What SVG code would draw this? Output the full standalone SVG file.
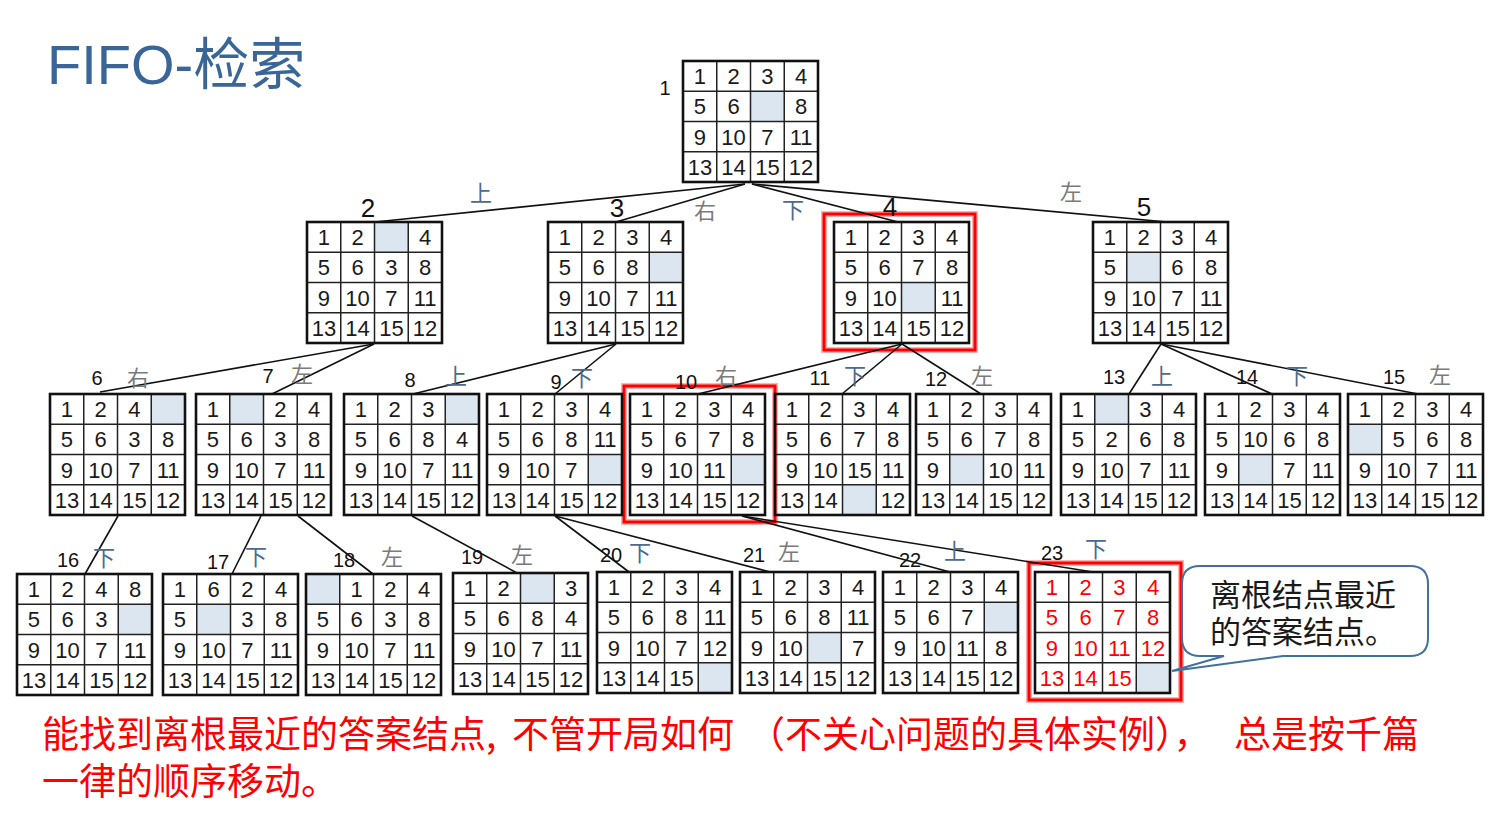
<svg xmlns="http://www.w3.org/2000/svg" xmlns:xlink="http://www.w3.org/1999/xlink" width="1496" height="824" viewBox="0 0 1496 824">
<style>
.d{font-family:"Liberation Sans",Arial,sans-serif;font-size:22px;fill:#1a1a1a;text-anchor:middle}
.r{fill:#ff0000}
.b{fill:#dce6f1}
.lbl{font-family:"Liberation Sans",Arial,sans-serif;font-size:20px;fill:#111;text-anchor:middle}
.lbl1{font-family:"Liberation Sans",Arial,sans-serif;font-size:26px;fill:#111;text-anchor:middle}
.dir{font-family:"Noto Sans CJK SC",sans-serif;font-size:22px;text-anchor:middle}
.ud{fill:#4d6a8c}
.lr{fill:#7a7a7a}
.red{fill:none;stroke:#ff0000;stroke-width:3}
.redglow{fill:none;stroke:#ffb0b0;stroke-width:6}
.conn line{stroke:#111;stroke-width:1.6}
</style>
<defs>
<g id="grid">
<path d="M33.75,0V121M67.5,0V121M101.25,0V121M0,30.25H135M0,60.5H135M0,90.75H135" stroke="#222" stroke-width="1.5" fill="none"/>
<rect width="135" height="121" fill="none" stroke="#111" stroke-width="2.6"/>
</g>
</defs>
<rect width="1496" height="824" fill="#ffffff"/>

<text x="47" y="84" font-family="Liberation Sans, Noto Sans CJK SC, sans-serif" font-size="56" fill="#3a6597">FIFO-检索</text>

<!-- red highlight boxes -->
<g id="highlights">
<rect class="redglow" x="824" y="214" width="151" height="136"/><rect class="red" x="824" y="214" width="151" height="136"/>
<rect class="redglow" x="624" y="386" width="151" height="136"/><rect class="red" x="624" y="386" width="151" height="136"/>
<rect class="redglow" x="1029" y="563" width="152" height="137"/><rect class="red" x="1029" y="563" width="152" height="137"/>
</g>

<g id="connectors" class="conn">
<line x1="745" y1="184" x2="375" y2="222"/>
<line x1="745" y1="184" x2="616" y2="222"/>
<line x1="752" y1="184" x2="898" y2="222"/>
<line x1="752" y1="184" x2="1167" y2="222"/>
<line x1="374" y1="344" x2="100" y2="392"/>
<line x1="374" y1="344" x2="272" y2="394"/>
<line x1="616" y1="344" x2="413" y2="394"/>
<line x1="616" y1="344" x2="555" y2="394"/>
<line x1="902" y1="344" x2="698" y2="394"/>
<line x1="902" y1="344" x2="842" y2="394"/>
<line x1="902" y1="344" x2="981" y2="394"/>
<line x1="1161" y1="344" x2="1129" y2="394"/>
<line x1="1161" y1="344" x2="1272" y2="394"/>
<line x1="1161" y1="344" x2="1418" y2="394"/>
<line x1="118" y1="516" x2="85" y2="574"/>
<line x1="261" y1="516" x2="232" y2="574"/>
<line x1="298" y1="516" x2="373" y2="574"/>
<line x1="412" y1="516" x2="517" y2="573"/>
<line x1="555" y1="516" x2="629" y2="572"/>
<line x1="555" y1="516" x2="770" y2="572"/>
<line x1="742" y1="516" x2="950" y2="572"/>
<line x1="742" y1="516" x2="1093" y2="572"/>
</g>

<!-- labels -->
<g id="labels">
<text class="lbl" x="665" y="95" font-size="22">1</text>
<text class="lbl1" x="368" y="217">2</text>
<text class="lbl1" x="617" y="217">3</text>
<text class="lbl1" x="890" y="216">4</text>
<text class="lbl1" x="1144" y="216">5</text>
<text class="dir ud" x="481" y="201">上</text>
<text class="dir lr" x="705" y="219">右</text>
<text class="dir ud" x="793" y="218">下</text>
<text class="dir lr" x="1071" y="200">左</text>

<text class="lbl" x="97" y="385">6</text><text class="dir lr" x="138" y="386">右</text>
<text class="lbl" x="268" y="383">7</text><text class="dir lr" x="302" y="382">左</text>
<text class="lbl" x="410" y="387">8</text><text class="dir ud" x="456" y="384">上</text>
<text class="lbl" x="556" y="389">9</text><text class="dir ud" x="582" y="386">下</text>
<text class="lbl" x="686" y="389">10</text><text class="dir lr" x="726" y="384">右</text>
<text class="lbl" x="820" y="385">11</text><text class="dir ud" x="855" y="384">下</text>
<text class="lbl" x="936" y="386">12</text><text class="dir lr" x="982" y="384">左</text>
<text class="lbl" x="1114" y="384">13</text><text class="dir ud" x="1162" y="384">上</text>
<text class="lbl" x="1247" y="384">14</text><text class="dir ud" x="1297" y="384">下</text>
<text class="lbl" x="1394" y="384">15</text><text class="dir lr" x="1440" y="383">左</text>

<text class="lbl" x="68" y="567">16</text><text class="dir ud" x="104" y="566">下</text>
<text class="lbl" x="218" y="569">17</text><text class="dir ud" x="256" y="565">下</text>
<text class="lbl" x="344" y="567">18</text><text class="dir lr" x="392" y="565">左</text>
<text class="lbl" x="472" y="564">19</text><text class="dir lr" x="522" y="563">左</text>
<text class="lbl" x="611" y="562">20</text><text class="dir ud" x="640" y="561">下</text>
<text class="lbl" x="754" y="562">21</text><text class="dir lr" x="789" y="560">左</text>
<text class="lbl" x="910" y="567">22</text><text class="dir ud" x="955" y="559">上</text>
<text class="lbl" x="1052" y="560">23</text><text class="dir ud" x="1096" y="557">下</text>
</g>

<g id="n1" transform="translate(683,61)"><rect class="b" x="67.5" y="30.25" width="33.75" height="30.25"/><use href="#grid" xlink:href="#grid"/>
<text class="d" y="23"><tspan x="16.9">1</tspan><tspan x="50.6">2</tspan><tspan x="84.4">3</tspan><tspan x="118.1">4</tspan></text>
<text class="d" y="53.3"><tspan x="16.9">5</tspan><tspan x="50.6">6</tspan><tspan x="118.1">8</tspan></text>
<text class="d" y="83.5"><tspan x="16.9">9</tspan><tspan x="50.6">10</tspan><tspan x="84.4">7</tspan><tspan x="118.1">11</tspan></text>
<text class="d" y="113.8"><tspan x="16.9">13</tspan><tspan x="50.6">14</tspan><tspan x="84.4">15</tspan><tspan x="118.1">12</tspan></text></g>

<g id="n2" transform="translate(307,222)"><rect class="b" x="67.5" y="0" width="33.75" height="30.25"/><use href="#grid" xlink:href="#grid"/>
<text class="d" y="23"><tspan x="16.9">1</tspan><tspan x="50.6">2</tspan><tspan x="118.1">4</tspan></text>
<text class="d" y="53.3"><tspan x="16.9">5</tspan><tspan x="50.6">6</tspan><tspan x="84.4">3</tspan><tspan x="118.1">8</tspan></text>
<text class="d" y="83.5"><tspan x="16.9">9</tspan><tspan x="50.6">10</tspan><tspan x="84.4">7</tspan><tspan x="118.1">11</tspan></text>
<text class="d" y="113.8"><tspan x="16.9">13</tspan><tspan x="50.6">14</tspan><tspan x="84.4">15</tspan><tspan x="118.1">12</tspan></text></g>

<g id="n3" transform="translate(548,222)"><rect class="b" x="101.25" y="30.25" width="33.75" height="30.25"/><use href="#grid" xlink:href="#grid"/>
<text class="d" y="23"><tspan x="16.9">1</tspan><tspan x="50.6">2</tspan><tspan x="84.4">3</tspan><tspan x="118.1">4</tspan></text>
<text class="d" y="53.3"><tspan x="16.9">5</tspan><tspan x="50.6">6</tspan><tspan x="84.4">8</tspan></text>
<text class="d" y="83.5"><tspan x="16.9">9</tspan><tspan x="50.6">10</tspan><tspan x="84.4">7</tspan><tspan x="118.1">11</tspan></text>
<text class="d" y="113.8"><tspan x="16.9">13</tspan><tspan x="50.6">14</tspan><tspan x="84.4">15</tspan><tspan x="118.1">12</tspan></text></g>

<g id="n4" transform="translate(834,222)"><rect class="b" x="67.5" y="60.5" width="33.75" height="30.25"/><use href="#grid" xlink:href="#grid"/>
<text class="d" y="23"><tspan x="16.9">1</tspan><tspan x="50.6">2</tspan><tspan x="84.4">3</tspan><tspan x="118.1">4</tspan></text>
<text class="d" y="53.3"><tspan x="16.9">5</tspan><tspan x="50.6">6</tspan><tspan x="84.4">7</tspan><tspan x="118.1">8</tspan></text>
<text class="d" y="83.5"><tspan x="16.9">9</tspan><tspan x="50.6">10</tspan><tspan x="118.1">11</tspan></text>
<text class="d" y="113.8"><tspan x="16.9">13</tspan><tspan x="50.6">14</tspan><tspan x="84.4">15</tspan><tspan x="118.1">12</tspan></text></g>

<g id="n5" transform="translate(1093,222)"><rect class="b" x="33.75" y="30.25" width="33.75" height="30.25"/><use href="#grid" xlink:href="#grid"/>
<text class="d" y="23"><tspan x="16.9">1</tspan><tspan x="50.6">2</tspan><tspan x="84.4">3</tspan><tspan x="118.1">4</tspan></text>
<text class="d" y="53.3"><tspan x="16.9">5</tspan><tspan x="84.4">6</tspan><tspan x="118.1">8</tspan></text>
<text class="d" y="83.5"><tspan x="16.9">9</tspan><tspan x="50.6">10</tspan><tspan x="84.4">7</tspan><tspan x="118.1">11</tspan></text>
<text class="d" y="113.8"><tspan x="16.9">13</tspan><tspan x="50.6">14</tspan><tspan x="84.4">15</tspan><tspan x="118.1">12</tspan></text></g>

<g id="n6" transform="translate(50,394)"><rect class="b" x="101.25" y="0" width="33.75" height="30.25"/><use href="#grid" xlink:href="#grid"/>
<text class="d" y="23"><tspan x="16.9">1</tspan><tspan x="50.6">2</tspan><tspan x="84.4">4</tspan></text>
<text class="d" y="53.3"><tspan x="16.9">5</tspan><tspan x="50.6">6</tspan><tspan x="84.4">3</tspan><tspan x="118.1">8</tspan></text>
<text class="d" y="83.5"><tspan x="16.9">9</tspan><tspan x="50.6">10</tspan><tspan x="84.4">7</tspan><tspan x="118.1">11</tspan></text>
<text class="d" y="113.8"><tspan x="16.9">13</tspan><tspan x="50.6">14</tspan><tspan x="84.4">15</tspan><tspan x="118.1">12</tspan></text></g>

<g id="n7" transform="translate(196,394)"><rect class="b" x="33.75" y="0" width="33.75" height="30.25"/><use href="#grid" xlink:href="#grid"/>
<text class="d" y="23"><tspan x="16.9">1</tspan><tspan x="84.4">2</tspan><tspan x="118.1">4</tspan></text>
<text class="d" y="53.3"><tspan x="16.9">5</tspan><tspan x="50.6">6</tspan><tspan x="84.4">3</tspan><tspan x="118.1">8</tspan></text>
<text class="d" y="83.5"><tspan x="16.9">9</tspan><tspan x="50.6">10</tspan><tspan x="84.4">7</tspan><tspan x="118.1">11</tspan></text>
<text class="d" y="113.8"><tspan x="16.9">13</tspan><tspan x="50.6">14</tspan><tspan x="84.4">15</tspan><tspan x="118.1">12</tspan></text></g>

<g id="n8" transform="translate(344,394)"><rect class="b" x="101.25" y="0" width="33.75" height="30.25"/><use href="#grid" xlink:href="#grid"/>
<text class="d" y="23"><tspan x="16.9">1</tspan><tspan x="50.6">2</tspan><tspan x="84.4">3</tspan></text>
<text class="d" y="53.3"><tspan x="16.9">5</tspan><tspan x="50.6">6</tspan><tspan x="84.4">8</tspan><tspan x="118.1">4</tspan></text>
<text class="d" y="83.5"><tspan x="16.9">9</tspan><tspan x="50.6">10</tspan><tspan x="84.4">7</tspan><tspan x="118.1">11</tspan></text>
<text class="d" y="113.8"><tspan x="16.9">13</tspan><tspan x="50.6">14</tspan><tspan x="84.4">15</tspan><tspan x="118.1">12</tspan></text></g>

<g id="n9" transform="translate(487,394)"><rect class="b" x="101.25" y="60.5" width="33.75" height="30.25"/><use href="#grid" xlink:href="#grid"/>
<text class="d" y="23"><tspan x="16.9">1</tspan><tspan x="50.6">2</tspan><tspan x="84.4">3</tspan><tspan x="118.1">4</tspan></text>
<text class="d" y="53.3"><tspan x="16.9">5</tspan><tspan x="50.6">6</tspan><tspan x="84.4">8</tspan><tspan x="118.1">11</tspan></text>
<text class="d" y="83.5"><tspan x="16.9">9</tspan><tspan x="50.6">10</tspan><tspan x="84.4">7</tspan></text>
<text class="d" y="113.8"><tspan x="16.9">13</tspan><tspan x="50.6">14</tspan><tspan x="84.4">15</tspan><tspan x="118.1">12</tspan></text></g>

<g id="n10" transform="translate(630,394)"><rect class="b" x="101.25" y="60.5" width="33.75" height="30.25"/><use href="#grid" xlink:href="#grid"/>
<text class="d" y="23"><tspan x="16.9">1</tspan><tspan x="50.6">2</tspan><tspan x="84.4">3</tspan><tspan x="118.1">4</tspan></text>
<text class="d" y="53.3"><tspan x="16.9">5</tspan><tspan x="50.6">6</tspan><tspan x="84.4">7</tspan><tspan x="118.1">8</tspan></text>
<text class="d" y="83.5"><tspan x="16.9">9</tspan><tspan x="50.6">10</tspan><tspan x="84.4">11</tspan></text>
<text class="d" y="113.8"><tspan x="16.9">13</tspan><tspan x="50.6">14</tspan><tspan x="84.4">15</tspan><tspan x="118.1">12</tspan></text></g>

<g id="n11" transform="translate(775,394)"><rect class="b" x="67.5" y="90.75" width="33.75" height="30.25"/><use href="#grid" xlink:href="#grid"/>
<text class="d" y="23"><tspan x="16.9">1</tspan><tspan x="50.6">2</tspan><tspan x="84.4">3</tspan><tspan x="118.1">4</tspan></text>
<text class="d" y="53.3"><tspan x="16.9">5</tspan><tspan x="50.6">6</tspan><tspan x="84.4">7</tspan><tspan x="118.1">8</tspan></text>
<text class="d" y="83.5"><tspan x="16.9">9</tspan><tspan x="50.6">10</tspan><tspan x="84.4">15</tspan><tspan x="118.1">11</tspan></text>
<text class="d" y="113.8"><tspan x="16.9">13</tspan><tspan x="50.6">14</tspan><tspan x="118.1">12</tspan></text></g>

<g id="n12" transform="translate(916,394)"><rect class="b" x="33.75" y="60.5" width="33.75" height="30.25"/><use href="#grid" xlink:href="#grid"/>
<text class="d" y="23"><tspan x="16.9">1</tspan><tspan x="50.6">2</tspan><tspan x="84.4">3</tspan><tspan x="118.1">4</tspan></text>
<text class="d" y="53.3"><tspan x="16.9">5</tspan><tspan x="50.6">6</tspan><tspan x="84.4">7</tspan><tspan x="118.1">8</tspan></text>
<text class="d" y="83.5"><tspan x="16.9">9</tspan><tspan x="84.4">10</tspan><tspan x="118.1">11</tspan></text>
<text class="d" y="113.8"><tspan x="16.9">13</tspan><tspan x="50.6">14</tspan><tspan x="84.4">15</tspan><tspan x="118.1">12</tspan></text></g>

<g id="n13" transform="translate(1061,394)"><rect class="b" x="33.75" y="0" width="33.75" height="30.25"/><use href="#grid" xlink:href="#grid"/>
<text class="d" y="23"><tspan x="16.9">1</tspan><tspan x="84.4">3</tspan><tspan x="118.1">4</tspan></text>
<text class="d" y="53.3"><tspan x="16.9">5</tspan><tspan x="50.6">2</tspan><tspan x="84.4">6</tspan><tspan x="118.1">8</tspan></text>
<text class="d" y="83.5"><tspan x="16.9">9</tspan><tspan x="50.6">10</tspan><tspan x="84.4">7</tspan><tspan x="118.1">11</tspan></text>
<text class="d" y="113.8"><tspan x="16.9">13</tspan><tspan x="50.6">14</tspan><tspan x="84.4">15</tspan><tspan x="118.1">12</tspan></text></g>

<g id="n14" transform="translate(1205,394)"><rect class="b" x="33.75" y="60.5" width="33.75" height="30.25"/><use href="#grid" xlink:href="#grid"/>
<text class="d" y="23"><tspan x="16.9">1</tspan><tspan x="50.6">2</tspan><tspan x="84.4">3</tspan><tspan x="118.1">4</tspan></text>
<text class="d" y="53.3"><tspan x="16.9">5</tspan><tspan x="50.6">10</tspan><tspan x="84.4">6</tspan><tspan x="118.1">8</tspan></text>
<text class="d" y="83.5"><tspan x="16.9">9</tspan><tspan x="84.4">7</tspan><tspan x="118.1">11</tspan></text>
<text class="d" y="113.8"><tspan x="16.9">13</tspan><tspan x="50.6">14</tspan><tspan x="84.4">15</tspan><tspan x="118.1">12</tspan></text></g>

<g id="n15" transform="translate(1348,394)"><rect class="b" x="0" y="30.25" width="33.75" height="30.25"/><use href="#grid" xlink:href="#grid"/>
<text class="d" y="23"><tspan x="16.9">1</tspan><tspan x="50.6">2</tspan><tspan x="84.4">3</tspan><tspan x="118.1">4</tspan></text>
<text class="d" y="53.3"><tspan x="50.6">5</tspan><tspan x="84.4">6</tspan><tspan x="118.1">8</tspan></text>
<text class="d" y="83.5"><tspan x="16.9">9</tspan><tspan x="50.6">10</tspan><tspan x="84.4">7</tspan><tspan x="118.1">11</tspan></text>
<text class="d" y="113.8"><tspan x="16.9">13</tspan><tspan x="50.6">14</tspan><tspan x="84.4">15</tspan><tspan x="118.1">12</tspan></text></g>

<g id="n16" transform="translate(17,574)"><rect class="b" x="101.25" y="30.25" width="33.75" height="30.25"/><use href="#grid" xlink:href="#grid"/>
<text class="d" y="23"><tspan x="16.9">1</tspan><tspan x="50.6">2</tspan><tspan x="84.4">4</tspan><tspan x="118.1">8</tspan></text>
<text class="d" y="53.3"><tspan x="16.9">5</tspan><tspan x="50.6">6</tspan><tspan x="84.4">3</tspan></text>
<text class="d" y="83.5"><tspan x="16.9">9</tspan><tspan x="50.6">10</tspan><tspan x="84.4">7</tspan><tspan x="118.1">11</tspan></text>
<text class="d" y="113.8"><tspan x="16.9">13</tspan><tspan x="50.6">14</tspan><tspan x="84.4">15</tspan><tspan x="118.1">12</tspan></text></g>

<g id="n17" transform="translate(163,574)"><rect class="b" x="33.75" y="30.25" width="33.75" height="30.25"/><use href="#grid" xlink:href="#grid"/>
<text class="d" y="23"><tspan x="16.9">1</tspan><tspan x="50.6">6</tspan><tspan x="84.4">2</tspan><tspan x="118.1">4</tspan></text>
<text class="d" y="53.3"><tspan x="16.9">5</tspan><tspan x="84.4">3</tspan><tspan x="118.1">8</tspan></text>
<text class="d" y="83.5"><tspan x="16.9">9</tspan><tspan x="50.6">10</tspan><tspan x="84.4">7</tspan><tspan x="118.1">11</tspan></text>
<text class="d" y="113.8"><tspan x="16.9">13</tspan><tspan x="50.6">14</tspan><tspan x="84.4">15</tspan><tspan x="118.1">12</tspan></text></g>

<g id="n18" transform="translate(306,574)"><rect class="b" x="0" y="0" width="33.75" height="30.25"/><use href="#grid" xlink:href="#grid"/>
<text class="d" y="23"><tspan x="50.6">1</tspan><tspan x="84.4">2</tspan><tspan x="118.1">4</tspan></text>
<text class="d" y="53.3"><tspan x="16.9">5</tspan><tspan x="50.6">6</tspan><tspan x="84.4">3</tspan><tspan x="118.1">8</tspan></text>
<text class="d" y="83.5"><tspan x="16.9">9</tspan><tspan x="50.6">10</tspan><tspan x="84.4">7</tspan><tspan x="118.1">11</tspan></text>
<text class="d" y="113.8"><tspan x="16.9">13</tspan><tspan x="50.6">14</tspan><tspan x="84.4">15</tspan><tspan x="118.1">12</tspan></text></g>

<g id="n19" transform="translate(453,573)"><rect class="b" x="67.5" y="0" width="33.75" height="30.25"/><use href="#grid" xlink:href="#grid"/>
<text class="d" y="23"><tspan x="16.9">1</tspan><tspan x="50.6">2</tspan><tspan x="118.1">3</tspan></text>
<text class="d" y="53.3"><tspan x="16.9">5</tspan><tspan x="50.6">6</tspan><tspan x="84.4">8</tspan><tspan x="118.1">4</tspan></text>
<text class="d" y="83.5"><tspan x="16.9">9</tspan><tspan x="50.6">10</tspan><tspan x="84.4">7</tspan><tspan x="118.1">11</tspan></text>
<text class="d" y="113.8"><tspan x="16.9">13</tspan><tspan x="50.6">14</tspan><tspan x="84.4">15</tspan><tspan x="118.1">12</tspan></text></g>

<g id="n20" transform="translate(597,572)"><rect class="b" x="101.25" y="90.75" width="33.75" height="30.25"/><use href="#grid" xlink:href="#grid"/>
<text class="d" y="23"><tspan x="16.9">1</tspan><tspan x="50.6">2</tspan><tspan x="84.4">3</tspan><tspan x="118.1">4</tspan></text>
<text class="d" y="53.3"><tspan x="16.9">5</tspan><tspan x="50.6">6</tspan><tspan x="84.4">8</tspan><tspan x="118.1">11</tspan></text>
<text class="d" y="83.5"><tspan x="16.9">9</tspan><tspan x="50.6">10</tspan><tspan x="84.4">7</tspan><tspan x="118.1">12</tspan></text>
<text class="d" y="113.8"><tspan x="16.9">13</tspan><tspan x="50.6">14</tspan><tspan x="84.4">15</tspan></text></g>

<g id="n21" transform="translate(740,572)"><rect class="b" x="67.5" y="60.5" width="33.75" height="30.25"/><use href="#grid" xlink:href="#grid"/>
<text class="d" y="23"><tspan x="16.9">1</tspan><tspan x="50.6">2</tspan><tspan x="84.4">3</tspan><tspan x="118.1">4</tspan></text>
<text class="d" y="53.3"><tspan x="16.9">5</tspan><tspan x="50.6">6</tspan><tspan x="84.4">8</tspan><tspan x="118.1">11</tspan></text>
<text class="d" y="83.5"><tspan x="16.9">9</tspan><tspan x="50.6">10</tspan><tspan x="118.1">7</tspan></text>
<text class="d" y="113.8"><tspan x="16.9">13</tspan><tspan x="50.6">14</tspan><tspan x="84.4">15</tspan><tspan x="118.1">12</tspan></text></g>

<g id="n22" transform="translate(883,572)"><rect class="b" x="101.25" y="30.25" width="33.75" height="30.25"/><use href="#grid" xlink:href="#grid"/>
<text class="d" y="23"><tspan x="16.9">1</tspan><tspan x="50.6">2</tspan><tspan x="84.4">3</tspan><tspan x="118.1">4</tspan></text>
<text class="d" y="53.3"><tspan x="16.9">5</tspan><tspan x="50.6">6</tspan><tspan x="84.4">7</tspan></text>
<text class="d" y="83.5"><tspan x="16.9">9</tspan><tspan x="50.6">10</tspan><tspan x="84.4">11</tspan><tspan x="118.1">8</tspan></text>
<text class="d" y="113.8"><tspan x="16.9">13</tspan><tspan x="50.6">14</tspan><tspan x="84.4">15</tspan><tspan x="118.1">12</tspan></text></g>

<g id="n23" transform="translate(1035,572)"><rect class="b" x="101.25" y="90.75" width="33.75" height="30.25"/><use href="#grid" xlink:href="#grid"/>
<text class="d r" y="23"><tspan x="16.9">1</tspan><tspan x="50.6">2</tspan><tspan x="84.4">3</tspan><tspan x="118.1">4</tspan></text>
<text class="d r" y="53.3"><tspan x="16.9">5</tspan><tspan x="50.6">6</tspan><tspan x="84.4">7</tspan><tspan x="118.1">8</tspan></text>
<text class="d r" y="83.5"><tspan x="16.9">9</tspan><tspan x="50.6">10</tspan><tspan x="84.4">11</tspan><tspan x="118.1">12</tspan></text>
<text class="d r" y="113.8"><tspan x="16.9">13</tspan><tspan x="50.6">14</tspan><tspan x="84.4">15</tspan></text></g>

<g id="callout">
<path d="M1200,566H1410Q1428,566 1428,584V638Q1428,656 1410,656H1283L1172,671L1224,656H1200Q1182,656 1182,638V584Q1182,566 1200,566Z" fill="#ffffff" stroke="#41719c" stroke-width="2"/>
<text font-family="Noto Sans CJK SC, sans-serif" font-size="31" fill="#1a1a1a"><tspan x="1210" y="606">离根结点最近</tspan><tspan x="1210" y="643">的答案结点。</tspan></text>
</g>

<g id="caption">
<text font-family="Noto Sans CJK SC, sans-serif" font-size="37" fill="#ff0000"><tspan x="42" y="748">能找到离根最近的答案结点,</tspan><tspan x="512" y="748">不管开局如何</tspan><tspan x="748" y="748">（不关心问题的具体实例），</tspan><tspan x="1234" y="748">总是按千篇</tspan><tspan x="42" y="795">一律的顺序移动。</tspan></text>
</g>
</svg>
